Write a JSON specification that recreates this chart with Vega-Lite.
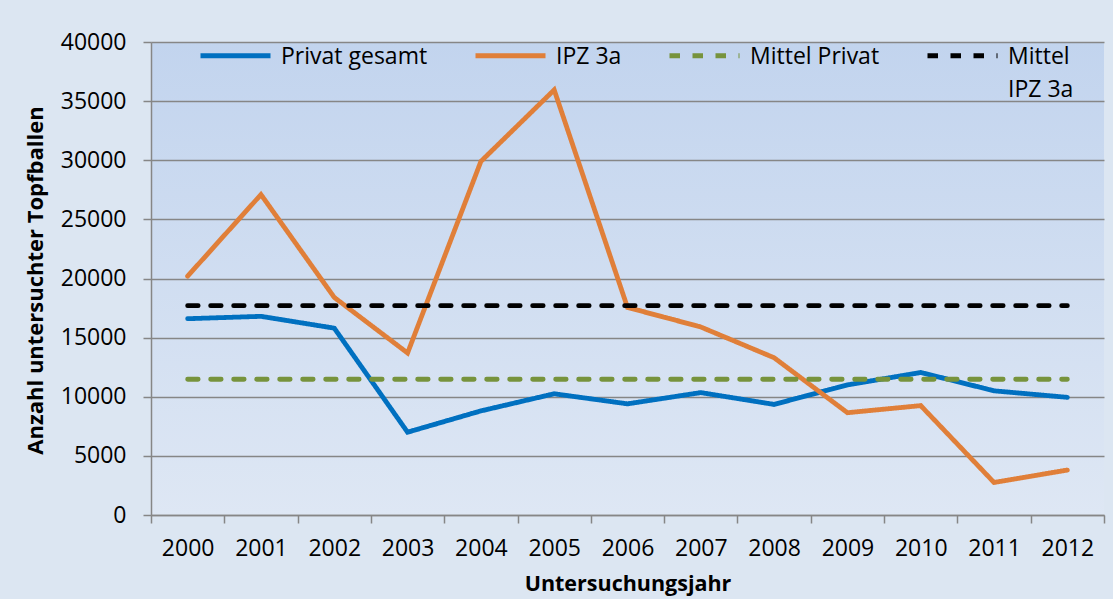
{
  "$schema": "https://vega.github.io/schema/vega-lite/v6.json",
  "width": 953,
  "height": 473,
  "autosize": {"type": "none"},
  "padding": {"left": 151, "top": 42, "right": 9, "bottom": 84},
  "background": "#dce6f2",
  "config": {
    "view": {
      "stroke": null,
      "fill": {"gradient": "linear", "x1": 0, "y1": 0, "x2": 0, "y2": 1, "stops": [{"offset": 0, "color": "#c2d4ee"}, {"offset": 1, "color": "#dee7f4"}]}
    },
    "font": "Open Sans"
  },
  "data": {
    "values": [
      {"year": "2000", "series": "Privat gesamt", "value": 16600},
      {"year": "2001", "series": "Privat gesamt", "value": 16800},
      {"year": "2002", "series": "Privat gesamt", "value": 15800},
      {"year": "2003", "series": "Privat gesamt", "value": 7000},
      {"year": "2004", "series": "Privat gesamt", "value": 8800},
      {"year": "2005", "series": "Privat gesamt", "value": 10250},
      {"year": "2006", "series": "Privat gesamt", "value": 9400},
      {"year": "2007", "series": "Privat gesamt", "value": 10350},
      {"year": "2008", "series": "Privat gesamt", "value": 9350},
      {"year": "2009", "series": "Privat gesamt", "value": 11000},
      {"year": "2010", "series": "Privat gesamt", "value": 12050},
      {"year": "2011", "series": "Privat gesamt", "value": 10500},
      {"year": "2012", "series": "Privat gesamt", "value": 9950},
      {"year": "2000", "series": "IPZ 3a", "value": 20200},
      {"year": "2001", "series": "IPZ 3a", "value": 27100},
      {"year": "2002", "series": "IPZ 3a", "value": 18400},
      {"year": "2003", "series": "IPZ 3a", "value": 13700},
      {"year": "2004", "series": "IPZ 3a", "value": 29900},
      {"year": "2005", "series": "IPZ 3a", "value": 35950},
      {"year": "2006", "series": "IPZ 3a", "value": 17550},
      {"year": "2007", "series": "IPZ 3a", "value": 15900},
      {"year": "2008", "series": "IPZ 3a", "value": 13300},
      {"year": "2009", "series": "IPZ 3a", "value": 8650},
      {"year": "2010", "series": "IPZ 3a", "value": 9250},
      {"year": "2011", "series": "IPZ 3a", "value": 2750},
      {"year": "2012", "series": "IPZ 3a", "value": 3800},
      {"year": "2000", "series": "Mittel Privat", "value": 11480},
      {"year": "2001", "series": "Mittel Privat", "value": 11480},
      {"year": "2002", "series": "Mittel Privat", "value": 11480},
      {"year": "2003", "series": "Mittel Privat", "value": 11480},
      {"year": "2004", "series": "Mittel Privat", "value": 11480},
      {"year": "2005", "series": "Mittel Privat", "value": 11480},
      {"year": "2006", "series": "Mittel Privat", "value": 11480},
      {"year": "2007", "series": "Mittel Privat", "value": 11480},
      {"year": "2008", "series": "Mittel Privat", "value": 11480},
      {"year": "2009", "series": "Mittel Privat", "value": 11480},
      {"year": "2010", "series": "Mittel Privat", "value": 11480},
      {"year": "2011", "series": "Mittel Privat", "value": 11480},
      {"year": "2012", "series": "Mittel Privat", "value": 11480},
      {"year": "2000", "series": "Mittel IPZ 3a", "value": 17700},
      {"year": "2001", "series": "Mittel IPZ 3a", "value": 17700},
      {"year": "2002", "series": "Mittel IPZ 3a", "value": 17700},
      {"year": "2003", "series": "Mittel IPZ 3a", "value": 17700},
      {"year": "2004", "series": "Mittel IPZ 3a", "value": 17700},
      {"year": "2005", "series": "Mittel IPZ 3a", "value": 17700},
      {"year": "2006", "series": "Mittel IPZ 3a", "value": 17700},
      {"year": "2007", "series": "Mittel IPZ 3a", "value": 17700},
      {"year": "2008", "series": "Mittel IPZ 3a", "value": 17700},
      {"year": "2009", "series": "Mittel IPZ 3a", "value": 17700},
      {"year": "2010", "series": "Mittel IPZ 3a", "value": 17700},
      {"year": "2011", "series": "Mittel IPZ 3a", "value": 17700},
      {"year": "2012", "series": "Mittel IPZ 3a", "value": 17700}
    ]
  },
  "mark": {"type": "line", "strokeWidth": 4.8, "strokeCap": "round", "strokeJoin": "miter"},
  "encoding": {
    "x": {
      "field": "year",
      "type": "ordinal",
      "scale": {"type": "band", "paddingInner": 0, "paddingOuter": 0},
      "axis": {
        "title": "Untersuchungsjahr",
        "labelAngle": 0,
        "tickBand": "extent",
        "domainColor": "#868686",
        "domainWidth": 1.5,
        "tickColor": "#868686",
        "tickWidth": 1.5,
        "tickSize": 8,
        "labelFont": "Open Sans",
        "labelFontSize": 23,
        "labelColor": "#000000",
        "labelPadding": 14,
        "titleFont": "Open Sans",
        "titleFontSize": 21.5,
        "titleFontWeight": "bold",
        "titleColor": "#000000",
        "titlePadding": 13,
        "grid": false
      }
    },
    "y": {
      "field": "value",
      "type": "quantitative",
      "scale": {"domain": [0, 40000], "nice": false},
      "axis": {
        "title": "Anzahl untersuchter Topfballen",
        "values": [0, 5000, 10000, 15000, 20000, 25000, 30000, 35000, 40000],
        "format": "d",
        "domainColor": "#868686",
        "domainWidth": 1.5,
        "tickColor": "#868686",
        "tickWidth": 1.5,
        "tickSize": 8,
        "gridColor": "#868686",
        "gridWidth": 1.5,
        "labelFont": "Open Sans",
        "labelFontSize": 23,
        "labelColor": "#000000",
        "labelPadding": 17,
        "titleFont": "Open Sans",
        "titleFontSize": 22,
        "titleFontWeight": "bold",
        "titleColor": "#000000",
        "titleX": -104,
        "titleY": 238
      }
    },
    "color": {
      "field": "series",
      "type": "nominal",
      "scale": {"domain": ["Privat gesamt", "IPZ 3a", "Mittel Privat", "Mittel IPZ 3a"], "range": ["#0070c0", "#e07f39", "#77933c", "#000000"]},
      "legend": {
        "title": null,
        "orient": "none",
        "legendX": 47,
        "legendY": -24,
        "direction": "horizontal",
        "columns": 4,
        "columnPadding": 37,
        "symbolType": "stroke",
        "symbolSize": 4900,
        "symbolStrokeWidth": 5,
        "labelFont": "Open Sans",
        "labelFontSize": 23,
        "labelColor": "#000000",
        "labelOffset": 8,
        "labelLimit": 300,
        "labelBaseline": "top",
        "labelExpr": "datum.label == 'Mittel IPZ 3a' ? ['Mittel', 'IPZ 3a'] : [datum.label, '']",
        "encode": {"labels": {"update": {"lineHeight": {"value": 33}, "dy": {"value": -10}}}}
      }
    },
    "strokeDash": {
      "field": "series",
      "type": "nominal",
      "scale": {"domain": ["Privat gesamt", "IPZ 3a", "Mittel Privat", "Mittel IPZ 3a"], "range": [[1, 0], [1, 0], [10.5, 12.5], [10.5, 12.5]]},
      "legend": null
    },
    "order": {"field": "year"}
  }
}
